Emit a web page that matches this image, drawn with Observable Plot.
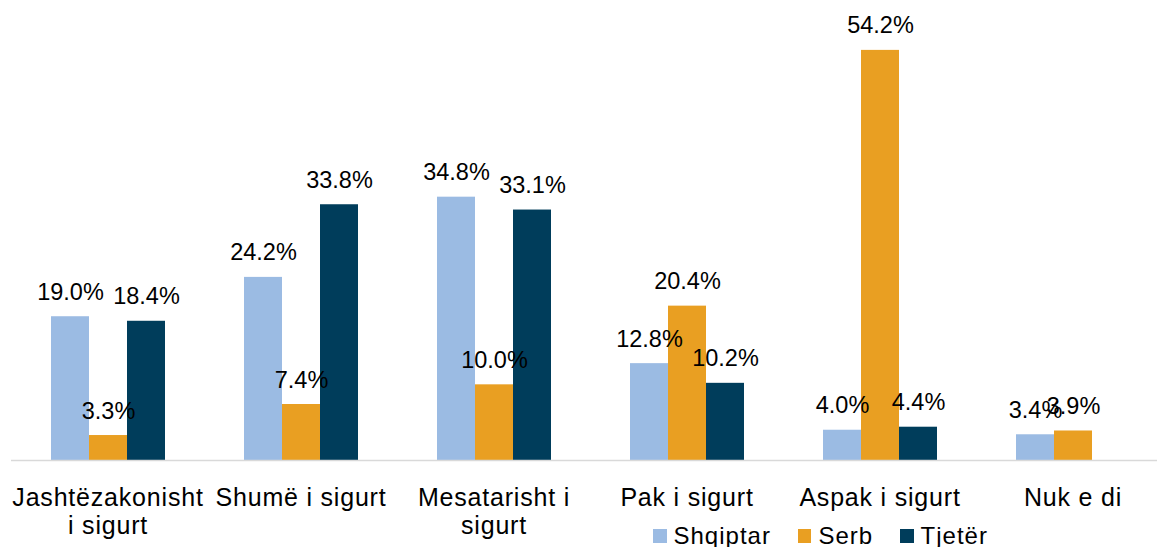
<!DOCTYPE html>
<html>
<head>
<meta charset="utf-8">
<script src="https://cdn.jsdelivr.net/npm/d3@7"></script>
<script src="https://cdn.jsdelivr.net/npm/@observablehq/plot@0.6"></script>
<style>
  body { margin: 0; background: #fff; font-family: "Liberation Sans", Arial, sans-serif; }
  #wrap { position: relative; width: 1157px; height: 547px; }
  #wrap svg { position: absolute; left: 0; top: 0; overflow: hidden; }
  g[aria-label="fx-axis tick label"] text { letter-spacing: 0.8px; }
  #legend { position: absolute; left: 653px; top: 522px; display: flex; align-items: center; font-size: 24px; letter-spacing: 1px; color: #000; line-height: 27px; }
  #legend .item { display: flex; align-items: center; margin-right: 27px; }
  #legend .sw { width: 13.5px; height: 13.5px; margin-right: 7px; margin-top: 1px; }
</style>
</head>
<body>
<div id="wrap"></div>
<script>
const categories = ["Jashtëzakonisht i sigurt", "Shumë i sigurt", "Mesatarisht i sigurt", "Pak i sigurt", "Aspak i sigurt", "Nuk e di"];
const categoryLabels = ["Jashtëzakonisht\ni sigurt", "Shumë i sigurt", "Mesatarisht i\nsigurt", "Pak i sigurt", "Aspak i sigurt", "Nuk e di"];
const series = ["Shqiptar", "Serb", "Tjetër"];
const shqiptar = [19.0, 24.2, 34.8, 12.8, 4.0, 3.4];
const serb = [3.3, 7.4, 10.0, 20.4, 54.2, 3.9];
const tjeter = [18.4, 33.8, 33.1, 10.2, 4.4, null];
const colors = ["#9BBBE3", "#E99F22", "#003D5B"];

const values = [shqiptar, serb, tjeter];
const rows = [];
categories.forEach((c, i) => {
  series.forEach((s, j) => {
    const v = values[j][i];
    if (v != null) rows.push({category: c, series: s, value: v});
  });
});
const labelOf = new Map(categories.map((c, i) => [c, categoryLabels[i]]));

const chart = Plot.plot({
  width: 1157,
  height: 547,
  marginTop: 6,
  marginBottom: 87,
  marginLeft: 10,
  marginRight: -13,
  style: {fontFamily: "'Liberation Sans', Arial, sans-serif", color: "#000", background: "#fff", overflow: "hidden"},
  fx: {domain: categories, padding: 0, label: null, axis: null},
  x: {domain: series, paddingInner: 0, paddingOuter: 1.02, axis: null},
  y: {domain: [0, 60], axis: null},
  color: {domain: series, range: colors},
  marks: [
    Plot.barY(rows, {fx: "category", x: "series", y: "value", fill: "series"}),
    Plot.ruleY([0], {stroke: "#D9D9D9", strokeWidth: 1.5}),
    Plot.text(rows, {fx: "category", x: "series", y: "value", text: d => d.value.toFixed(1) + "%", dy: -17, lineAnchor: "bottom", fontSize: 23.5, fill: "#000"}),
    Plot.axisFx({anchor: "bottom", label: null, tickSize: 0, tickPadding: 26, fontSize: 25, lineHeight: 1.1, fill: "#000", tickFormat: d => labelOf.get(d)})
  ]
});
document.getElementById("wrap").appendChild(chart);

const legend = document.createElement("div");
legend.id = "legend";
series.forEach((s, j) => {
  const item = document.createElement("div");
  item.className = "item";
  const sw = document.createElement("span");
  sw.className = "sw";
  sw.style.background = colors[j];
  const t = document.createElement("span");
  t.textContent = s;
  item.appendChild(sw);
  item.appendChild(t);
  legend.appendChild(item);
});
document.getElementById("wrap").appendChild(legend);
</script>
</body>
</html>
